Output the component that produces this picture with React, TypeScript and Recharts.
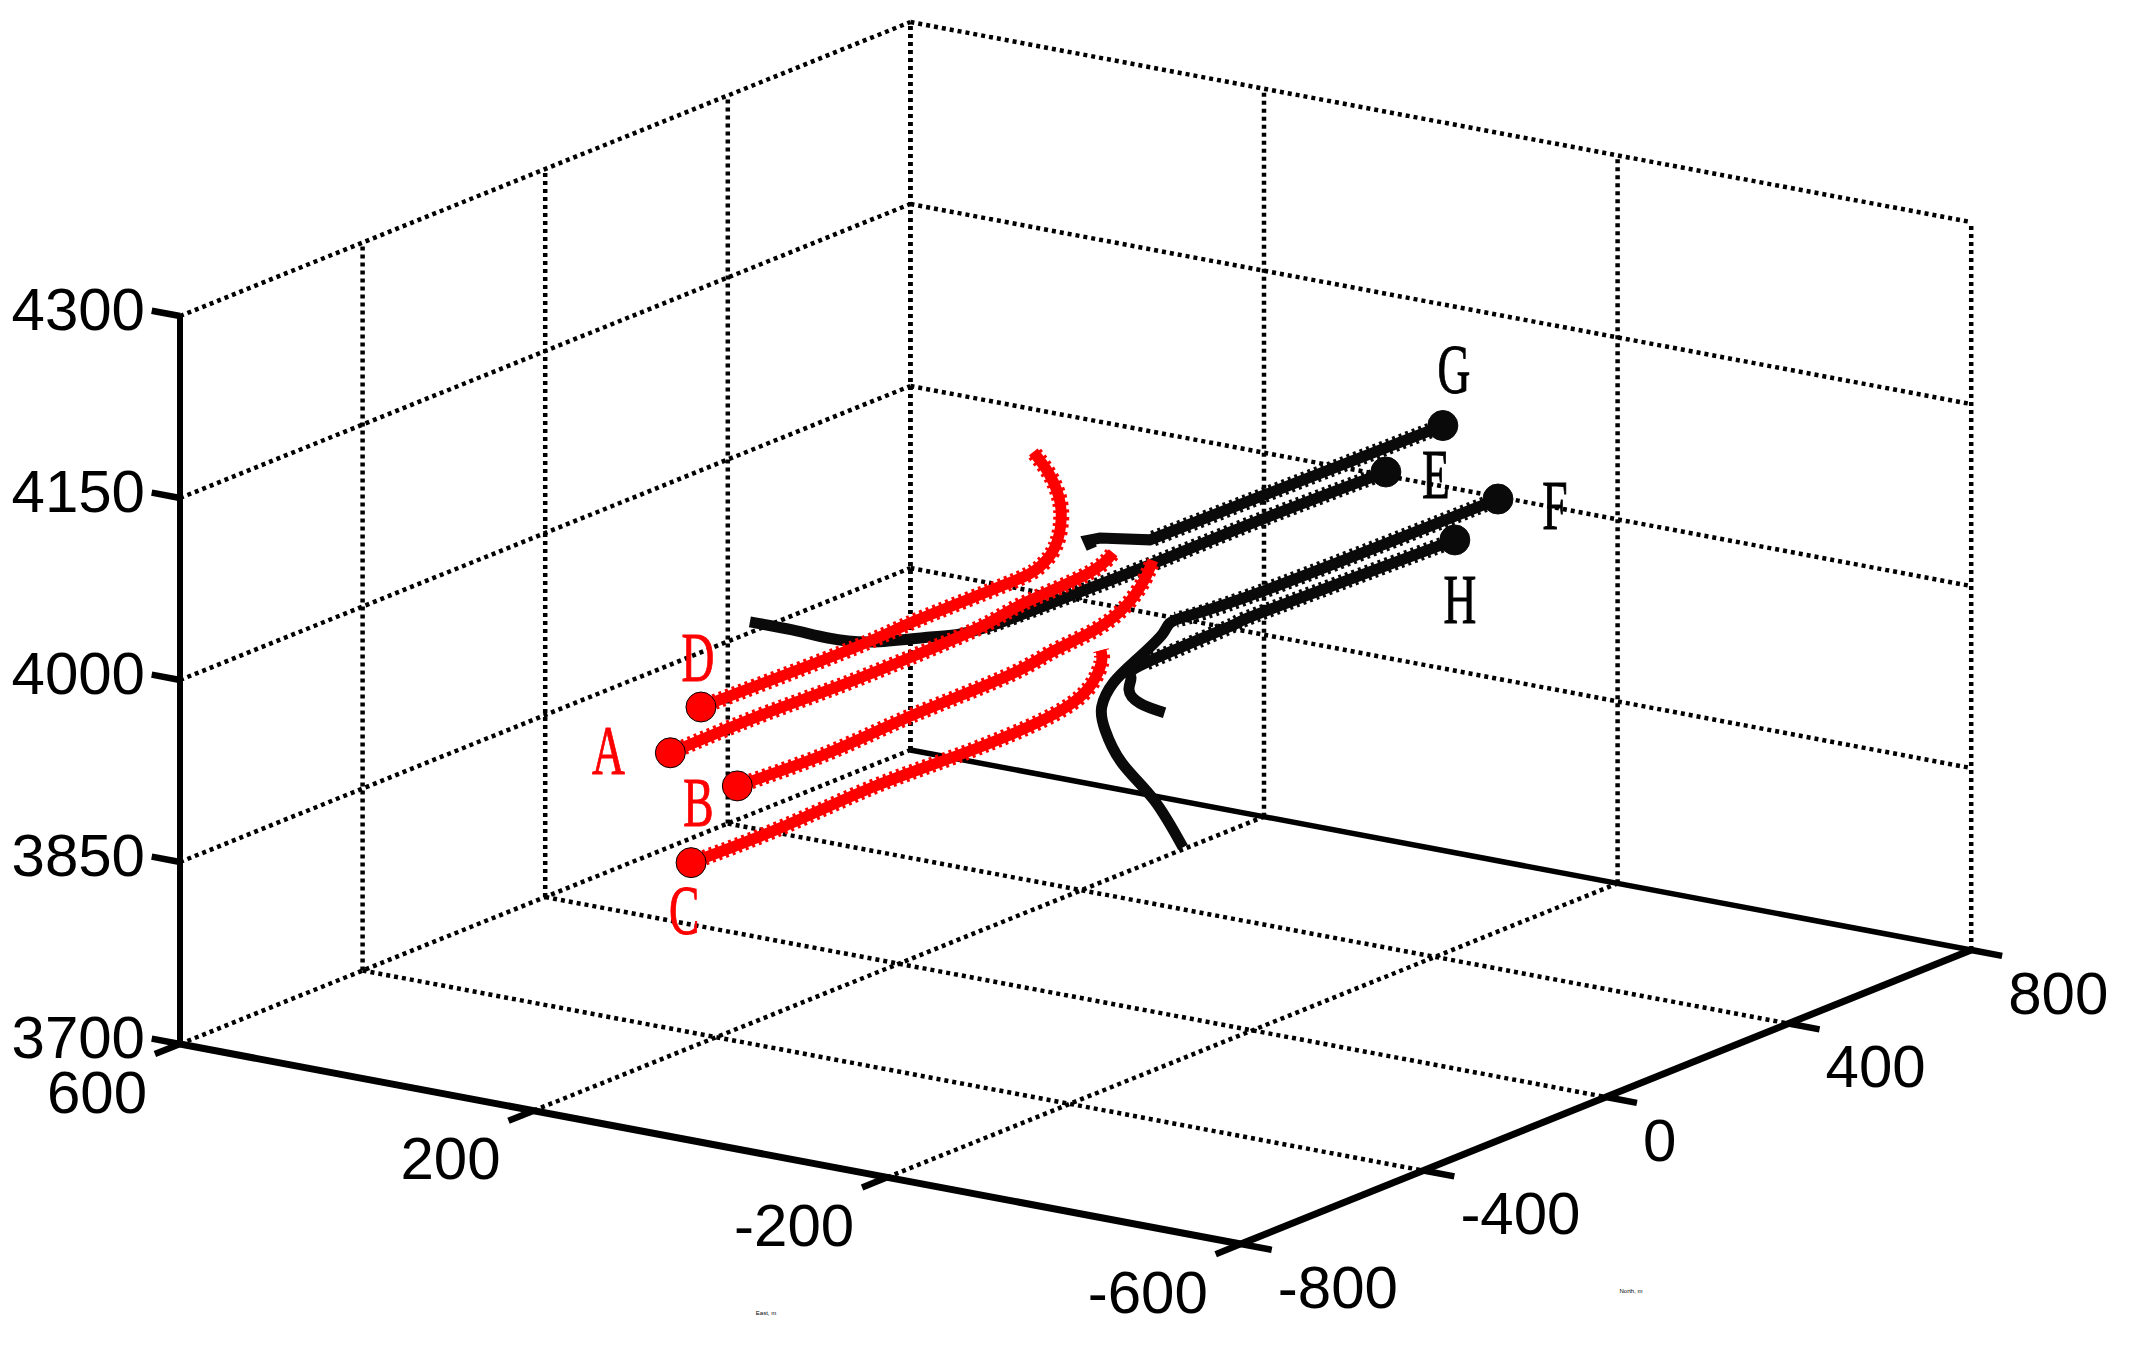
import { ComposedChart, Line, Scatter, XAxis, YAxis, ZAxis } from 'recharts';

type P3 = [number, number, number]; // east, north, depth

const eastTicks = [600, 200, -200, -600];
const northTicks = [-800, -400, 0, 400, 800];
const depthTicks = [3700, 3850, 4000, 4150, 4300];

const wellA: P3[] = [[83, -727, 4000], [83, -539, 4001], [83, -362, 3999], [83, -187, 3999], [83, -41, 4001], [83, 47, 4006], [83, 184, 4009], [83, 243, 4018]];
const wellB: P3[] = [[-32, -803, 4000], [-32, -604, 3997], [-32, -429, 4000], [-32, -215, 4001], [-32, -116, 4006], [-32, -18, 4010], [-32, 50, 4020], [-32, 89, 4035], [-32, 107, 4048]];
const wellC: P3[] = [[89, -670, 3900], [89, -469, 3899], [89, -273, 3902], [89, -97, 3900], [89, 69, 3900], [89, 165, 3905], [89, 209, 3915], [89, 229, 3929], [89, 228, 3939]];
const wellD: P3[] = [[147, -536, 4000], [147, -199, 3998], [147, -63, 4000], [147, 131, 4000], [147, 205, 4003], [147, 239, 4014], [147, 253, 4035], [147, 247, 4056], [147, 225, 4078], [147, 192, 4100]];
const wellE: P3[] = [[-163, 364, 4100], [-158, 99, 4100], [-159, -130, 4100], [-157, -300, 4100], [-152, -495, 4100], [-128, -566, 4100], [-93, -625, 4100], [-51, -641, 4100], [-8, -636, 4100], [40, -636, 4100]];
const wellF: P3[] = [[-185, 567, 4050], [-180, 56, 4050], [-168, -106, 4050], [-168, -134, 4043], [-168, -193, 4030], [-168, -242, 4019], [-168, -268, 4003], [-168, -261, 3983], [-168, -224, 3950], [-168, -154, 3909], [-168, -90, 3860]];
const wellG: P3[] = [[-118, 576, 4100], [-118, 177, 4102], [-118, -66, 4103], [-118, -175, 4121], [-118, -201, 4123], [-118, -193, 4115]];
const wellH: P3[] = [[-114, 610, 4000], [-104, 203, 4000], [-106, 140, 4000], [-111, -62, 4000], [-112, -96, 3994], [-112, -100, 3984], [-112, -76, 3969], [-112, -22, 3953]];

const redWells = [
  { name: 'A', path: wellA },
  { name: 'B', path: wellB },
  { name: 'C', path: wellC },
  { name: 'D', path: wellD },
];
const blackWells = [
  { name: 'E', path: wellE },
  { name: 'F', path: wellF },
  { name: 'G', path: wellG },
  { name: 'H', path: wellH },
];

// where the letters sit relative to the well's end marker
const LABEL_OFFSET: Record<string, [number, number]> = {
  A: [-62, -2], B: [-39, 16], C: [-7, 48], D: [-3, -50],
  E: [50, 2], F: [57, 6], G: [11, -56], H: [5, 59],
};
// how many points of each well belong to the rough straight leg
const ROUGH_POINTS: Record<string, number> = {
  A: 8, B: 9, C: 9, D: 10, E: 5, F: 3, G: 3, H: 4,
};

const W = 2144;
const H = 1352;
const RED = '#ff0000';
const BLACK = '#0a0a0a';
const SANS = '"Liberation Sans", Arial, sans-serif';
const SERIF = '"Liberation Serif", serif';

// fixed orthographic view of the 3D box onto the page
const project = ([e, n, z]: P3) => ({
  x: 180 + (600 - e) * 0.884 + (n + 800) * 0.4565,
  y: 1044 + (600 - e) * 0.1667 - (n + 800) * 0.18375 - (z - 3700) * 1.2133,
});
const seg = (a: P3, b: P3) => [project(a), project(b)];

const [eMax, eMin] = [eastTicks[0], eastTicks[eastTicks.length - 1]];
const [nMin, nMax] = [northTicks[0], northTicks[northTicks.length - 1]];
const [zMin, zMax] = [depthTicks[0], depthTicks[depthTicks.length - 1]];

const dotted = [
  ...northTicks.filter((n) => n !== nMin).map((n) => seg([eMax, n, zMin], [eMax, n, zMax])),
  ...eastTicks.map((e) => seg([e, nMax, zMin], [e, nMax, zMax])),
  ...depthTicks.map((z) => seg([eMax, nMin, z], [eMax, nMax, z])),
  ...depthTicks.filter((z) => z !== zMin).map((z) => seg([eMax, nMax, z], [eMin, nMax, z])),
  ...eastTicks.filter((e) => e !== eMax && e !== eMin).map((e) => seg([e, nMin, zMin], [e, nMax, zMin])),
  ...northTicks.filter((n) => n !== nMin && n !== nMax).map((n) => seg([eMax, n, zMin], [eMin, n, zMin])),
];

const axes = [
  { width: 6, line: seg([eMax, nMin, zMin], [eMax, nMin, zMax]) },
  { width: 7, line: seg([eMax, nMin, zMin], [eMin, nMin, zMin]) },
  { width: 7, line: seg([eMin, nMin, zMin], [eMin, nMax, zMin]) },
  { width: 5.5, line: seg([eMax, nMax, zMin], [eMin, nMax, zMin]) },
];

const tickMarks = [
  ...depthTicks.map((z) => seg([eMax, nMin, z], [eMax + 32, nMin, z])),
  ...eastTicks.map((e) => seg([e, nMin, zMin], [e, nMin - 55, zMin])),
  ...northTicks.map((n) => seg([eMin, n, zMin], [eMin - 35, n, zMin])),
];

const depthLabels = depthTicks.map((z) => {
  const p = project([eMax, nMin, z]);
  return { x: p.x - 35, y: p.y - 7, text: String(z) };
});
const eastLabels = eastTicks.map((e) => {
  const p = project([e, nMin, zMin]);
  return { x: p.x - 33, y: p.y + 48, text: String(e) };
});
const northLabels = northTicks.map((n) => {
  const p = project([eMin, n, zMin]);
  return { x: p.x + 37, y: p.y + 43, text: String(n) };
});

const makeText = (anchor: string, size: number) => (props: any) => (
  <text
    x={props.cx}
    y={props.cy}
    textAnchor={anchor}
    dominantBaseline="central"
    fontFamily={SANS}
    fontSize={size}
    fill="#000"
  >
    {props.payload.text}
  </text>
);

const makeLetter = (color: string) => (props: any) => (
  <text
    transform={`translate(${props.cx} ${props.cy}) scale(0.65 1)`}
    textAnchor="middle"
    dominantBaseline="central"
    fontFamily={SERIF}
    fontSize={70}
    fill={color}
    stroke={color}
    strokeWidth={1}
  >
    {props.payload.text}
  </text>
);

const wellLetters = (wells: { name: string; path: P3[] }[]) =>
  wells.map((w) => {
    const p = project(w.path[0]);
    const [dx, dy] = LABEL_OFFSET[w.name];
    return { x: p.x + dx, y: p.y + dy, text: w.name };
  });

const wellEnds = (wells: { name: string; path: P3[] }[]) => wells.map((w) => project(w.path[0]));

const WELL_WIDTH = 11;
const FRINGE_WIDTH = 16;

const wellLines = (wells: { name: string; path: P3[] }[], color: string) =>
  wells.flatMap((w) => {
    // G has a hard corner at its heel, a spline would ripple there
    const curve = w.name === 'G' ? 'linear' : 'natural';
    return [
      <Line key={`${w.name}-fringe`} data={w.path.slice(0, ROUGH_POINTS[w.name]).map(project)} dataKey="y" type={curve} stroke={color} strokeWidth={FRINGE_WIDTH} strokeDasharray="3 4" dot={false} isAnimationActive={false} legendType="none" />,
      <Line key={w.name} data={w.path.map(project)} dataKey="y" type={curve} stroke={color} strokeWidth={WELL_WIDTH} dot={false} isAnimationActive={false} legendType="none" />,
    ];
  });

export default function App() {
  return (
    <div style={{ position: 'absolute', left: 0, top: 0, width: W, height: H, background: '#fff' }}>
      <ComposedChart width={W} height={H} margin={{ top: 0, right: 0, bottom: 0, left: 0 }}>
        <XAxis type="number" dataKey="x" domain={[0, W]} hide />
        <YAxis type="number" dataKey="y" domain={[0, H]} reversed hide />
        <ZAxis range={[707, 707]} />
        {dotted.map((d, i) => (
          <Line key={`grid${i}`} data={d} dataKey="y" stroke="#000" strokeWidth={4.5} strokeDasharray="4 4" dot={false} isAnimationActive={false} legendType="none" />
        ))}
        {axes.map((a, i) => (
          <Line key={`axis${i}`} data={a.line} dataKey="y" stroke="#000" strokeWidth={a.width} dot={false} isAnimationActive={false} legendType="none" />
        ))}
        {tickMarks.map((d, i) => (
          <Line key={`tick${i}`} data={d} dataKey="y" stroke="#000" strokeWidth={6.5} dot={false} isAnimationActive={false} legendType="none" />
        ))}
        {wellLines(blackWells, BLACK)}
        {wellLines(redWells, RED)}
        <Scatter data={wellEnds(blackWells)} dataKey="y" fill={BLACK} stroke={BLACK} strokeWidth={1} shape="circle" isAnimationActive={false} />
        <Scatter data={wellEnds(redWells)} dataKey="y" fill={RED} stroke="#000" strokeWidth={1} shape="circle" isAnimationActive={false} />
        <Scatter data={wellLetters(redWells)} dataKey="y" shape={makeLetter(RED)} isAnimationActive={false} />
        <Scatter data={wellLetters(blackWells)} dataKey="y" shape={makeLetter('#000')} isAnimationActive={false} />
        <Scatter data={depthLabels} dataKey="y" shape={makeText('end', 60)} isAnimationActive={false} />
        <Scatter data={eastLabels} dataKey="y" shape={makeText('end', 60)} isAnimationActive={false} />
        <Scatter data={northLabels} dataKey="y" shape={makeText('start', 60)} isAnimationActive={false} />
        <Scatter data={[{ x: 766, y: 1313, text: 'East, m' }, { x: 1631, y: 1291, text: 'North, m' }]} dataKey="y" shape={makeText('middle', 6)} isAnimationActive={false} />
      </ComposedChart>
    </div>
  );
}
